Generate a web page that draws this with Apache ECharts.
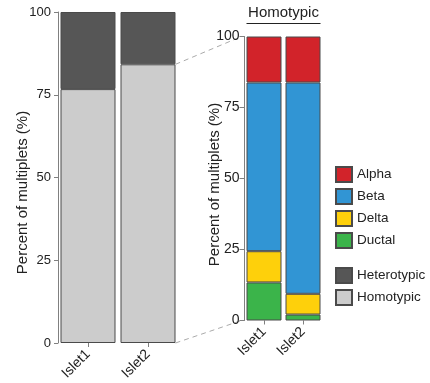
<!DOCTYPE html>
<html><head><meta charset="utf-8">
<script src="https://cdn.jsdelivr.net/npm/echarts@6/dist/echarts.min.js"></script>
<style>html,body{margin:0;padding:0;background:#fff}#c{width:430px;height:383px}</style>
</head><body><div id="c"></div>
<script>
const categories = ['Islet1', 'Islet2'];
const homotypic = [76.7, 84.2];
const heterotypic = [23.3, 15.8];
const ductal = [13.4, 2.1];
const delta = [11.0, 7.3];
const beta = [59.4, 74.4];
const alpha = [16.2, 16.2];
const yTicks = [0, 25, 50, 75, 100];

const F = 'Liberation Sans, Arial, sans-serif';
const chart = echarts.init(document.getElementById('c'), null, {renderer: 'canvas'});
const border = {borderColor: '#4a4a4a', borderWidth: 1};
function yAxis(idx, gap, fs, margin, tick, pad) {
  return {
    gridIndex: idx, type: 'value', min: 0, max: 100, interval: 25,
    name: 'Percent of multiplets (%)', nameLocation: 'middle', nameGap: gap, nameMoveOverlap: false,
    nameTextStyle: {fontFamily: F, fontSize: 15, color: '#222', padding: pad},
    axisLine: {show: true, lineStyle: {color: '#808080', width: 1}},
    axisTick: {show: true, length: tick, lineStyle: {color: '#808080'}},
    axisLabel: {fontFamily: F, fontSize: fs, color: '#222', margin: margin,
      formatter: v => yTicks.includes(v) ? String(v) : ''},
    splitLine: {show: false}
  };
}
function xAxis(idx, fs) {
  return {
    gridIndex: idx, type: 'category', data: categories,
    axisLine: {show: false},
    axisTick: {show: true, alignWithLabel: true, length: 4, lineStyle: {color: '#808080'}},
    axisLabel: {fontFamily: F, fontSize: fs, color: '#222', rotate: 45, margin: 9, interval: 0}
  };
}
const option = {
  animation: false,
  grid: [
    {left: 58, top: 12, width: 120, height: 331},
    {left: 244.5, top: 36.5, width: 78, height: 284}
  ],
  xAxis: [xAxis(0, 14), xAxis(1, 14)],
  yAxis: [yAxis(0, 28, 13, 7, 4, [0, 30, 0, 0]), yAxis(1, 22, 14, 5, 5, [0, 12, 0, 0])],
  legend: [
    {data: ['Alpha', 'Beta', 'Delta', 'Ductal'], orient: 'vertical', left: 335, top: 166, padding: 0,
     itemWidth: 16, itemHeight: 15, itemGap: 5, icon: 'rect',
     textStyle: {fontFamily: F, fontSize: 13.5, color: '#222', lineHeight: 15}},
    {data: ['Heterotypic', 'Homotypic'], orient: 'vertical', left: 335, top: 267, padding: 0,
     itemWidth: 16, itemHeight: 15, itemGap: 5, icon: 'rect',
     textStyle: {fontFamily: F, fontSize: 13.5, color: '#222', lineHeight: 15}}
  ],
  series: [
    {name: 'Homotypic', type: 'bar', stack: 'L', xAxisIndex: 0, yAxisIndex: 0, barWidth: 55,
     data: homotypic, itemStyle: Object.assign({color: '#cccccc'}, border)},
    {name: 'Heterotypic', type: 'bar', stack: 'L', xAxisIndex: 0, yAxisIndex: 0, barWidth: 55,
     data: heterotypic, itemStyle: Object.assign({color: '#565656'}, border)},
    {name: 'Ductal', type: 'bar', stack: 'R', xAxisIndex: 1, yAxisIndex: 1, barWidth: 35,
     data: ductal, itemStyle: Object.assign({color: '#3bb44a'}, border)},
    {name: 'Delta', type: 'bar', stack: 'R', xAxisIndex: 1, yAxisIndex: 1, barWidth: 35,
     data: delta, itemStyle: Object.assign({color: '#fed00b'}, border)},
    {name: 'Beta', type: 'bar', stack: 'R', xAxisIndex: 1, yAxisIndex: 1, barWidth: 35,
     data: beta, itemStyle: Object.assign({color: '#3195d4'}, border)},
    {name: 'Alpha', type: 'bar', stack: 'R', xAxisIndex: 1, yAxisIndex: 1, barWidth: 35,
     data: alpha, itemStyle: Object.assign({color: '#d2232a'}, border)}
  ]
};
chart.setOption(option);

// Decorations computed from the axes
const p2 = chart.convertToPixel({xAxisIndex: 0, yAxisIndex: 0}, ['Islet2', homotypic[1]]);
const p2b = chart.convertToPixel({xAxisIndex: 0, yAxisIndex: 0}, ['Islet2', 0]);
const r100 = chart.convertToPixel({xAxisIndex: 1, yAxisIndex: 1}, ['Islet1', 100]);
const r0 = chart.convertToPixel({xAxisIndex: 1, yAxisIndex: 1}, ['Islet1', 0]);
const rA = chart.convertToPixel({xAxisIndex: 1, yAxisIndex: 1}, ['Islet1', 0]);
const rB = chart.convertToPixel({xAxisIndex: 1, yAxisIndex: 1}, ['Islet2', 0]);
const xr0 = rA[0] - 17.5, xr1 = rB[0] + 17.5;
const xl = p2[0] + 27.5;
const axisX = 244.5 - 3;
const dash = {stroke: '#aaa', lineWidth: 1, lineDash: [5, 4]};
chart.setOption({
  graphic: [
    {type: 'line', shape: {x1: xl, y1: p2[1], x2: axisX, y2: r100[1]}, style: dash, silent: true},
    {type: 'line', shape: {x1: xl, y1: p2b[1], x2: axisX, y2: r0[1]}, style: dash, silent: true},
    {type: 'text', x: (xr0 + xr1) / 2, y: 13, style: {text: 'Homotypic', font: '15px ' + F, fill: '#222', align: 'center', verticalAlign: 'middle'}},
    {type: 'line', shape: {x1: xr0, y1: 23.5, x2: xr1, y2: 23.5}, style: {stroke: '#222', lineWidth: 1.2}}
  ]
});
</script></body></html>
